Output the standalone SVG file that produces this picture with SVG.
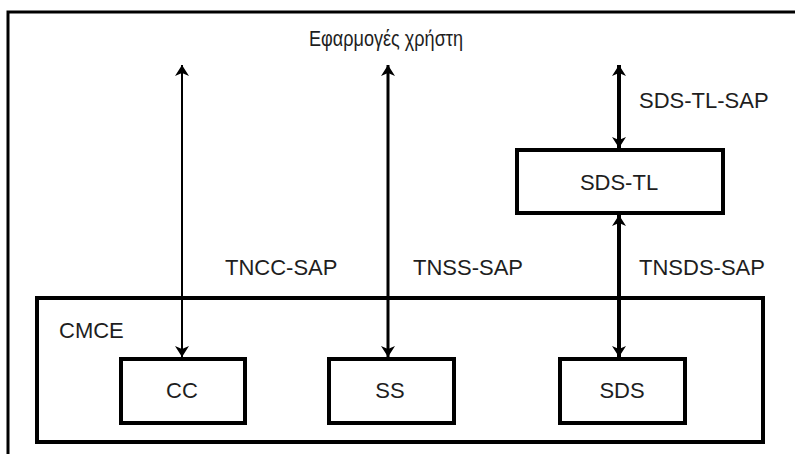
<svg xmlns="http://www.w3.org/2000/svg" width="795" height="454" viewBox="0 0 795 454">
  <defs>
    <style>
      .box { fill: #ffffff; stroke: #000000; stroke-width: 4; }
      .frame { fill: none; stroke: #000000; stroke-width: 3; }
      .lbl { font-family: "Liberation Sans", Arial, sans-serif; font-size: 22px; fill: #1e1e1e; }
      .mid { text-anchor: middle; }
      .wire { stroke: #000000; fill: none; }
    </style>
    <!-- notched arrowhead, tip on the end point -->
    <marker id="tip" viewBox="-13 -8 14 16" refX="0" refY="0" markerWidth="14" markerHeight="16" markerUnits="userSpaceOnUse" orient="auto-start-reverse">
      <path d="M0,0 L-11,-7 L-8,0 L-11,7 Z" fill="#000000"/>
    </marker>
  </defs>

  <rect width="795" height="454" fill="#ffffff"/>

  <!-- page frame: top and left edges only -->
  <path class="frame" d="M8,454 V12 H795"/>

  <text class="lbl mid" x="386" y="46" font-size="21" textLength="154" lengthAdjust="spacingAndGlyphs">Εφαρμογές χρήστη</text>

  <g id="cmce">
    <rect class="box" x="37" y="298" width="726" height="144" style="fill:none"/>
    <text class="lbl" x="59" y="338">CMCE</text>
  </g>

  <g id="cc">
    <rect class="box" x="121" y="359" width="124" height="64"/>
    <text class="lbl mid" x="182" y="398">CC</text>
  </g>

  <g id="ss">
    <rect class="box" x="329" y="359" width="125" height="64"/>
    <text class="lbl mid" x="390" y="398">SS</text>
  </g>

  <g id="sds">
    <rect class="box" x="560" y="359" width="125" height="64"/>
    <text class="lbl mid" x="622" y="398">SDS</text>
  </g>

  <g id="sds-tl">
    <rect class="box" x="517" y="150" width="206" height="63"/>
    <text class="lbl mid" x="619" y="190">SDS-TL</text>
  </g>

  <!-- connectors -->
  <g id="connectors">
    <line class="wire" x1="182" y1="65" x2="182" y2="357" stroke-width="2" marker-start="url(#tip)" marker-end="url(#tip)"/>
    <line class="wire" x1="388" y1="65" x2="388" y2="357" stroke-width="3" marker-start="url(#tip)" marker-end="url(#tip)"/>
    <line class="wire" x1="619" y1="65" x2="619" y2="148" stroke-width="4" marker-start="url(#tip)" marker-end="url(#tip)"/>
    <line class="wire" x1="619" y1="215" x2="619" y2="357" stroke-width="4" marker-start="url(#tip)" marker-end="url(#tip)"/>
    <text class="lbl" x="639" y="108">SDS-TL-SAP</text>
    <text class="lbl" x="225" y="275">TNCC-SAP</text>
    <text class="lbl" x="413" y="275">TNSS-SAP</text>
    <text class="lbl" x="639" y="275">TNSDS-SAP</text>
  </g>
</svg>
